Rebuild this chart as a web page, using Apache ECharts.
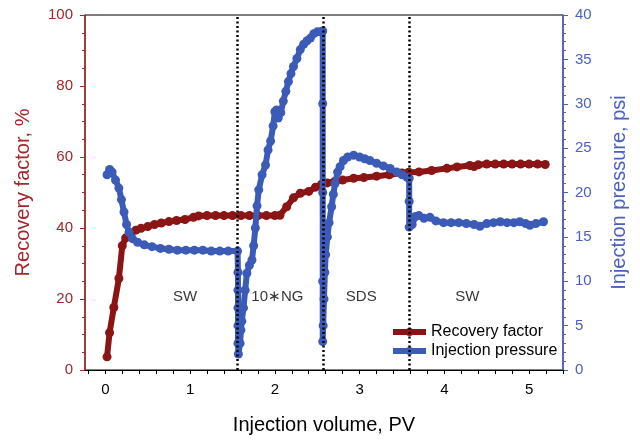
<!DOCTYPE html>
<html><head><meta charset="utf-8">
<script src="https://cdn.jsdelivr.net/npm/echarts@6/dist/echarts.min.js"></script>
<style>html,body{margin:0;padding:0;background:#fff}#c{width:640px;height:444px}</style>
</head><body><div id="c"></div>
<script>
// Recovery factor (%) vs injection volume (PV)
const rfX = [0.02,0.05,0.10,0.16,0.20,0.24,0.30,0.36,0.42,0.50,0.58,0.66,0.75,0.84,0.94,1.04,1.10,1.20,1.30,1.40,1.50,1.60,1.70,1.80,1.90,2.00,2.06,2.14,2.22,2.30,2.40,2.48,2.55,2.62,2.70,2.80,2.93,3.05,3.20,3.35,3.50,3.58,3.70,3.85,4.03,4.15,4.30,4.35,4.40,4.50,4.60,4.70,4.80,4.90,5.00,5.10,5.19];
const rfY = [3.7,10.5,17.6,25.8,35.0,37.2,38.6,39.4,39.9,40.4,41.0,41.4,41.8,42.1,42.4,43.0,43.4,43.5,43.5,43.5,43.5,43.5,43.5,43.5,43.5,43.5,43.6,46.0,48.5,49.8,50.3,51.5,52.3,52.7,53.0,53.5,54.0,54.2,54.6,55.0,55.5,55.7,55.8,56.2,56.8,57.2,57.6,57.3,57.8,58.0,58.0,58.0,58.0,58.0,58.0,58.0,57.9];
// Injection pressure (psi) vs injection volume (PV)
const ipX = [0.02,0.05,0.08,0.12,0.16,0.19,0.22,0.25,0.28,0.32,0.38,0.46,0.55,0.65,0.75,0.85,0.95,1.05,1.15,1.25,1.35,1.45,1.56,1.565,1.565,1.565,1.565,1.565,1.57,1.59,1.60,1.61,1.63,1.65,1.67,1.70,1.73,1.75,1.77,1.79,1.81,1.85,1.89,1.92,1.95,1.98,2.00,2.02,2.04,2.07,2.10,2.13,2.16,2.19,2.22,2.26,2.30,2.34,2.38,2.42,2.46,2.50,2.54,2.565,2.565,2.565,2.565,2.565,2.57,2.58,2.59,2.60,2.62,2.64,2.67,2.69,2.71,2.74,2.77,2.81,2.86,2.93,3.00,3.06,3.12,3.20,3.28,3.36,3.44,3.50,3.56,3.585,3.585,3.585,3.62,3.66,3.70,3.76,3.83,3.90,3.99,4.08,4.17,4.26,4.35,4.42,4.50,4.58,4.66,4.74,4.82,4.89,4.96,5.01,5.08,5.17];
const ipY = [22.0,22.6,22.3,21.4,20.5,19.2,17.8,16.4,15.5,14.8,14.4,14.1,13.9,13.7,13.6,13.5,13.5,13.5,13.5,13.4,13.4,13.4,13.4,11.0,9.0,7.0,5.0,3.0,1.8,3.0,4.5,5.5,7.0,9.0,10.9,11.8,12.4,14.0,16.0,18.5,20.3,22.0,23.1,24.8,25.8,27.5,29.1,29.3,28.4,29.0,30.3,31.4,32.5,33.4,34.2,35.1,36.1,36.7,37.1,37.4,37.9,38.1,38.1,38.2,30.0,20.0,10.0,3.2,5.0,8.0,11.0,13.0,15.0,16.6,18.4,19.8,21.0,22.3,22.9,23.6,24.0,24.2,24.0,23.8,23.6,23.3,23.0,22.7,22.3,22.0,21.7,21.6,19.0,16.1,16.4,17.3,17.4,17.1,17.2,16.8,16.6,16.6,16.6,16.5,16.4,16.2,16.5,16.6,16.7,16.6,16.6,16.7,16.5,16.3,16.5,16.7];
// Stage boundaries and labels
const stageBounds = [1.565, 2.57, 3.59];
const stageNames = ['SW', '10\u2217NG', 'SDS', 'SW'];
const stageLabelX = [0.94, 2.03, 3.02, 4.27];
const stageLabelY = [20.6, 20.6, 20.6, 20.6];
const xLabelVals = [0,1,2,3,4,5];
const xTickVals = [-0.2,0,0.2,0.4,0.6,0.8,1,1.2,1.4,1.6,1.8,2,2.2,2.4,2.6,2.8,3,3.2,3.4,3.6,3.8,4,4.2,4.4,4.6,4.8,5,5.2,5.4];

const RED = '#8b1414', BLUE = '#3c5bb8';
const RED_T = '#a3272b', BLUE_T = '#4a61c2';
const FONT = '"Liberation Sans", Arial, sans-serif';

const chart = echarts.init(document.getElementById('c'), null, {renderer: 'canvas'});
chart.setOption({
  animation: false,
  textStyle: {fontFamily: FONT},
  grid: {left: 85, right: 77, top: 15, bottom: 74, show: true, borderColor: '#000', borderWidth: 1},
  legend: {
    data: ['Recovery factor', 'Injection pressure'],
    orient: 'vertical', left: 385, top: 319, itemGap: 3,
    itemWidth: 33, itemHeight: 10,
    lineStyle: {width: 6},
    textStyle: {fontSize: 16, color: '#000', fontFamily: FONT}
  },
  xAxis: {
    type: 'value', min: -0.24, max: 5.4,
    name: 'Injection volume, PV', nameLocation: 'middle', nameGap: 45,
    nameTextStyle: {fontSize: 20, color: '#000'},
    axisLine: {onZero: false, lineStyle: {color: '#000', width: 1}},
    axisTick: {customValues: xTickVals, length: 4, lineStyle: {color: '#000'}},
    axisLabel: {customValues: xLabelVals, fontSize: 15, color: '#000', margin: 12},
    splitLine: {show: false}
  },
  yAxis: [{
    type: 'value', min: 0, max: 100, interval: 20, position: 'left',
    name: 'Recovery factor, %', nameLocation: 'middle', nameGap: 52,
    nameTextStyle: {fontSize: 20, color: RED_T},
    axisLine: {show: true, onZero: false, lineStyle: {color: RED_T, width: 1.5}},
    axisTick: {show: true, length: 5, lineStyle: {color: RED_T}},
    minorTick: {show: true, splitNumber: 4, length: 3, lineStyle: {color: RED_T}},
    axisLabel: {fontSize: 15, color: RED_T, margin: 12},
    splitLine: {show: false}
  }, {
    type: 'value', min: 0, max: 40, interval: 5, position: 'right',
    name: 'Injection pressure, psi', nameLocation: 'middle', nameGap: 46,
    nameTextStyle: {fontSize: 20, color: BLUE_T},
    axisLine: {show: true, onZero: false, lineStyle: {color: BLUE_T, width: 1.5}},
    axisTick: {show: true, length: 5, lineStyle: {color: BLUE_T}},
    minorTick: {show: true, splitNumber: 5, length: 3, lineStyle: {color: BLUE_T}},
    axisLabel: {fontSize: 15, color: BLUE_T, margin: 12},
    splitLine: {show: false}
  }],
  series: [{
    name: 'Recovery factor', type: 'line', yAxisIndex: 0, z: 2,
    data: rfX.map((x, i) => [x, rfY[i]]),
    symbol: 'circle', symbolSize: 9, showSymbol: true,
    lineStyle: {color: RED, width: 6}, itemStyle: {color: RED}
  }, {
    name: 'Injection pressure', type: 'line', yAxisIndex: 1, z: 3,
    data: ipX.map((x, i) => [x, ipY[i]]),
    symbol: 'circle', symbolSize: 9, showSymbol: true,
    lineStyle: {color: BLUE, width: 6}, itemStyle: {color: BLUE}
  }, {
    name: 'stages', type: 'scatter', yAxisIndex: 0, z: 5, symbolSize: 0,
    data: stageLabelX.map((x, i) => ({value: [x, stageLabelY[i]], name: stageNames[i]})),
    label: {show: true, position: 'inside', formatter: p => p.name, fontSize: 15, color: '#000'},
    markLine: {
      silent: true, symbol: 'none', label: {show: false},
      lineStyle: {color: '#000', width: 2.5, type: [2, 2.5]},
      data: stageBounds.map(v => ({xAxis: v}))
    }
  }]
});
</script></body></html>
